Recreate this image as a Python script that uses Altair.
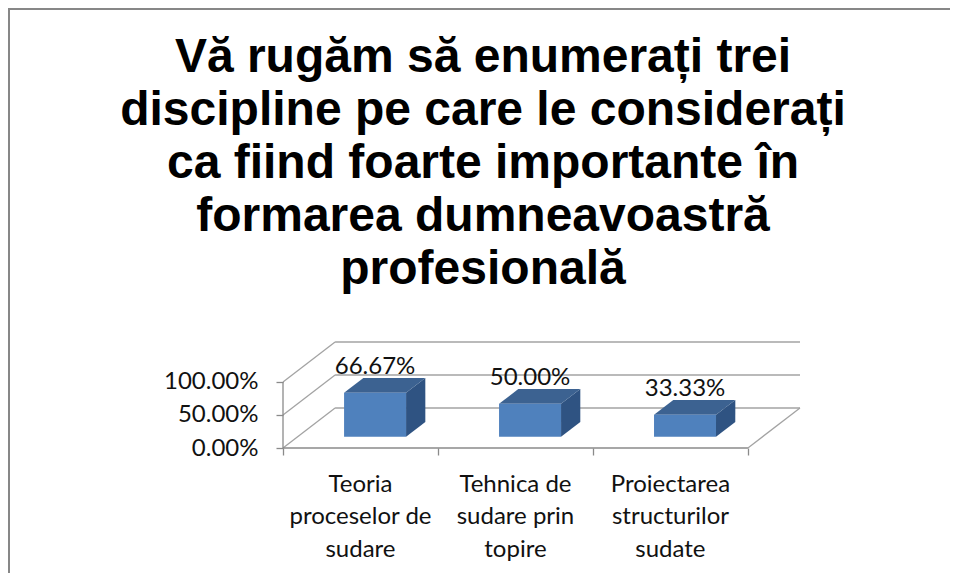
import altair as alt
import pandas as pd

# ---------------- data ----------------
title_lines = [
    "Vă rugăm să enumerați trei",
    "discipline pe care le considerați",
    "ca fiind foarte importante în",
    "formarea dumneavoastră",
    "profesională",
]
categories = [
    "Teoria proceselor de sudare",
    "Tehnica de sudare prin topire",
    "Proiectarea structurilor sudate",
]
category_lines = [
    ["Teoria", "proceselor de", "sudare"],
    ["Tehnica de", "sudare prin", "topire"],
    ["Proiectarea", "structurilor", "sudate"],
]
values = [0.6667, 0.5000, 0.3333]
y_ticks = [0.0, 0.5, 1.0]
x_ticks = [0, 1, 2, 3]

# ---------------- pseudo-3D geometry (style) ----------------
N = len(categories)
DX, DY = 0.336, 0.606      # depth of the floor (x in category units, y in value units)
BAR_W = 0.40
F1, F2 = 0.28, 0.65        # bar front / back position within the depth
X_MAX = N + DX
Y_MAX = max(y_ticks) + DY

xs = alt.Scale(domain=[0, X_MAX], nice=False, zero=False)
ys = alt.Scale(domain=[0, Y_MAX], nice=False, zero=False)

FONT = "Lato"
GRID = "#a3a3a3"
AXIS = "#8a8a8a"

xaxis = alt.Axis(values=x_ticks, labels=False, domain=False, grid=False,
                 tickSize=7, tickColor=AXIS, tickWidth=1.3, title=None)
yaxis = alt.Axis(values=y_ticks, format=".2%", domain=False, grid=False,
                 tickSize=7, tickColor=AXIS, tickWidth=1.3, labelPadding=18,
                 labelFont=FONT, labelFontSize=24, labelColor="#111111", title=None)


def X(field):
    return alt.X(field, scale=xs, axis=xaxis)


def Y(field):
    return alt.Y(field, scale=ys, axis=yaxis)


# gridlines / walls / floor segments built from tick values
seg = []
for v in y_ticks:
    seg.append(dict(x=0, y=v, x2=DX, y2=v + DY, kind="grid"))
    seg.append(dict(x=DX, y=v + DY, x2=N + DX, y2=v + DY, kind="grid"))
seg.append(dict(x=N, y=0, x2=N + DX, y2=DY, kind="grid"))
seg.append(dict(x=0, y=0, x2=N, y2=0, kind="axis"))
seg.append(dict(x=0, y=0, x2=0, y2=max(y_ticks), kind="axis"))
seg_df = pd.DataFrame(seg)

# bar faces
front, faces_top, faces_side, vlabels, clabels = [], [], [], [], []
ddx, ddy = (F2 - F1) * DX, (F2 - F1) * DY
for i, (c, v) in enumerate(zip(categories, values)):
    x0 = i + 0.5 - BAR_W / 2 + F1 * DX
    x1 = x0 + BAR_W
    b = F1 * DY
    t = b + v
    front.append(dict(cat=c, x=x0, x2=x1, y=b, y2=t))
    for px, lo, hi in [(x0, t, t), (x0 + ddx, t, t + ddy), (x1, t, t + ddy), (x1 + ddx, t + ddy, t + ddy)]:
        faces_top.append(dict(cat=c, x=px, y=lo, y2=hi))
    for px, lo, hi in [(x1, b, t), (x1 + ddx, b + ddy, t + ddy)]:
        faces_side.append(dict(cat=c, x=px, y=lo, y2=hi))
    vlabels.append(dict(cat=c, value=v, x=(x0 + x1) / 2, y=t + ddy))
    clabels.append(dict(cat=c, x=i + 0.5, y=0, text="\n".join(category_lines[i])))

front_df = pd.DataFrame(front)
top_df = pd.DataFrame(faces_top)
side_df = pd.DataFrame(faces_side)
vlab_df = pd.DataFrame(vlabels)
clab_df = pd.DataFrame(clabels)

# ---------------- layers ----------------
rules = alt.Chart(seg_df).mark_rule(strokeWidth=1.3).encode(
    x=X("x:Q"), x2="x2:Q", y=Y("y:Q"), y2="y2:Q",
    color=alt.Color("kind:N", scale=alt.Scale(domain=["grid", "axis"], range=[GRID, AXIS]), legend=None),
)
side = alt.Chart(side_df).mark_area(orient="vertical", color="#2f5382").encode(
    x=X("x:Q"), y=Y("y:Q"), y2="y2:Q", detail="cat:N",
)
top = alt.Chart(top_df).mark_area(orient="vertical", color="#3c6291").encode(
    x=X("x:Q"), y=Y("y:Q"), y2="y2:Q", detail="cat:N",
)
fronts = alt.Chart(front_df).mark_rect(color="#4f81bd").encode(
    x=X("x:Q"), x2="x2:Q", y=Y("y:Q"), y2="y2:Q",
)
value_labels = alt.Chart(vlab_df).mark_text(
    font=FONT, fontSize=24, color="#111111", baseline="alphabetic", dy=-4
).encode(
    x=X("x:Q"), y=Y("y:Q"), text=alt.Text("value:Q", format=".2%"),
)
cat_labels = alt.Chart(clab_df).mark_text(
    font=FONT, fontSize=24, color="#111111", baseline="alphabetic", dy=43.7,
    lineBreak="\n", lineHeight=32.5, align="center"
).encode(
    x=X("x:Q"), y=Y("y:Q"), text="text:N",
)

title_df = pd.DataFrame({"text": ["\n".join(title_lines)]})
title = alt.Chart(title_df).mark_text(
    font="Liberation Sans", fontSize=48, fontWeight="bold", color="#000000",
    baseline="alphabetic", align="center", lineBreak="\n", lineHeight=53
).encode(x=alt.value(200), y=alt.value(-270.3), text="text:N")

one = pd.DataFrame({"k": [0]})
frame_top = alt.Chart(one).mark_rule(color="#878787", strokeWidth=2).encode(
    x=alt.value(-276), x2=alt.value(670), y=alt.value(-333)
)
frame_left = alt.Chart(one).mark_rule(color="#878787", strokeWidth=2).encode(
    x=alt.value(-274), y=alt.value(-334), y2=alt.value(240)
)

chart = alt.layer(
    rules, side, top, fronts, value_labels, cat_labels, title, frame_top, frame_left
).properties(
    width=517,
    height=106,
    autosize=alt.AutoSizeParams(type="none"),
    padding={"left": 275, "top": 334, "right": 150, "bottom": 125},
    background="white",
).configure_view(stroke=None)

chart.save("out.html", embed_options={"renderer": "svg", "actions": False})
